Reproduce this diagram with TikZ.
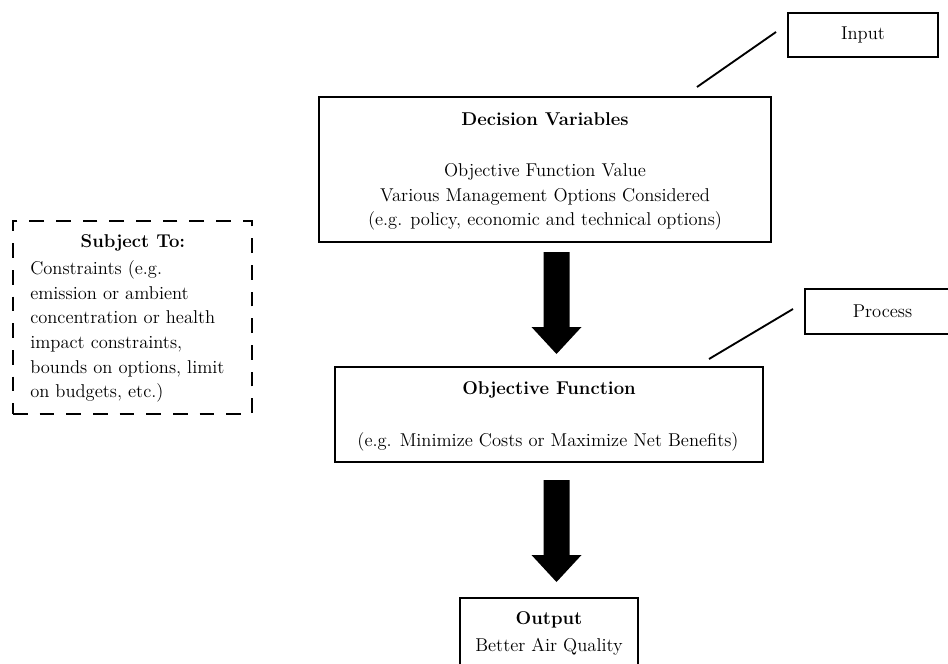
\documentclass[tikz,border=0pt]{standalone}
\usepackage{fontspec}
\newcommand\mytext{\fontsize{13.9}{18.5}\selectfont}
\tikzset{
  box/.style={draw, line width=1.5pt, rectangle, inner sep=0pt, font=\mytext},
  dbox/.style={draw, line width=2pt, rectangle, inner sep=0pt, dash pattern=on 11pt off 9pt},
  txt/.style={inner sep=0pt, font=\mytext},
  ttl/.style={inner sep=0pt, font=\mytext\bfseries},
  lead/.style={line width=1.4pt},
  blockarrow/.style={fill=black},
}
\begin{document}
\begin{tikzpicture}[x=0.75pt,y=-0.75pt]
\path[use as bounding box] (0,0) rectangle (948,663);
\clip (0,0) rectangle (948,663);

% Input label
\node[box, minimum width=112.5pt, minimum height=33pt] (input) at (863,35) {Input};
\coordinate (inA) at (776,32);
\coordinate (inB) at (697,87);
\draw[lead] (inA) -- (inB);

% Decision variables
\node[box, minimum width=339pt, minimum height=108.75pt] (dec) at (545,169.5) {};
\node[ttl] (dectitle) at (545,119) {Decision Variables};
\node[txt, align=center] (dectext) at (545,197) {Objective Function Value\\Various Management Options Considered\\(e.g. policy, economic and technical options)};

% arrow 1
\fill[blockarrow] (543.5,252) -- (569.5,252) -- (569.5,327) -- (581.5,327) -- (556.5,354) -- (531.5,327) -- (543.5,327) -- cycle;

% Process label
\node[box, minimum width=116.25pt, minimum height=33.75pt] (process) at (882.5,311.5) {Process};
\coordinate (prA) at (793,309);
\coordinate (prB) at (709,359);
\draw[lead] (prA) -- (prB);

% Objective function
\node[box, minimum width=321pt, minimum height=71.25pt] (obj) at (549,414.5) {};
\node[ttl] (objtitle) at (549,390) {Objective Function};
\node[txt] (objtext) at (548,442) {(e.g. Minimize Costs or Maximize Net Benefits)};

% arrow 2
\fill[blockarrow] (543.5,480) -- (569.5,480) -- (569.5,555) -- (581.5,555) -- (556.5,582) -- (531.5,555) -- (543.5,555) -- cycle;

% Output
\node[box, minimum width=133.5pt, minimum height=75pt] (out) at (549,648) {};
\node[ttl] (outtitle) at (549,620) {Output};
\node[txt] (outtext) at (549,647) {Better Air Quality};

% Subject to
\node[dbox, minimum width=179.25pt, minimum height=144.75pt] (subj) at (132.5,317.5) {};
\node[ttl] (subjtitle) at (133,243) {Subject To:};
\node[txt, align=left, anchor=west] (subjtext) at (30,331.5) {Constraints (e.g.\\emission or ambient\\concentration or health\\impact constraints,\\bounds on options, limit\\on budgets, etc.)};
\end{tikzpicture}
\end{document}
